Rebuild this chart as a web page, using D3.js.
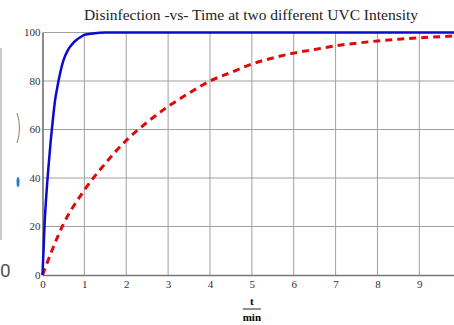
<!DOCTYPE html>
<meta charset="utf-8">
<style>
body { margin: 0; background: #fff; }
svg { display: block; }
text { font-family: "Liberation Serif", "Times New Roman", serif; }
.grid line { stroke: #a0a0a0; stroke-width: 1px; }
.tick text { font-size: 11px; fill: #333; }
</style>
<body>
<script src="https://d3js.org/d3.v7.min.js"></script>
<script>
// values
const timeHigh = [0, 0.05, 0.1, 0.15, 0.2, 0.25, 0.3, 0.35, 0.4, 0.5, 0.6, 0.7, 0.8, 0.9, 1.0, 1.2, 1.5, 2, 10];
const disHigh  = [0, 21, 35, 46, 56, 64.5, 72, 77, 81.5, 88.5, 92.5, 95, 96.8, 98, 99, 99.6, 100, 100, 100];

const timeLow = [0, 0.5, 1, 1.5, 2, 2.5, 3, 3.5, 4, 4.5, 5, 5.5, 6, 6.5, 7, 7.5, 8, 8.5, 9, 9.5, 10];
const disLow  = [0, 21, 35, 46, 55.5, 63, 69.5, 75, 80, 83.5, 87, 89.5, 91.5, 93, 94.5, 95.6, 96.5, 97.2, 97.8, 98.3, 98.7];

const xTicks = [0, 1, 2, 3, 4, 5, 6, 7, 8, 9];
const yTicks = [0, 20, 40, 60, 80, 100];
const title = "Disinfection -vs- Time at two different UVC Intensity";

const width = 454, height = 325;
const plotLeft = 42.5, plotTop = 32.5, plotBottom = 275;
const serif = "Liberation Serif, Times New Roman, serif";

let svg = d3.select("body").append("svg")
    .attr("width", width)
    .attr("height", height);

let x = d3.scaleLinear().domain([0, 10]).range([plotLeft, plotLeft + 418.7]);
let y = d3.scaleLinear().domain([0, 100]).range([plotBottom, plotTop]);

// screenshot leftovers at the left edge
svg.append("line")
    .attr("x1", 1).attr("x2", 1).attr("y1", 48).attr("y2", 240)
    .attr("stroke", "#bbb").attr("stroke-width", 1.5);
svg.append("text")
    .attr("x", 0).attr("y", 277)
    .style("font-family", "Roboto, sans-serif")
    .style("font-size", "19px")
    .attr("fill", "#555")
    .text("0");
svg.append("path")
    .attr("d", "M17,113 Q22,128 17,143")
    .attr("fill", "none").attr("stroke", "#8a7f70").attr("stroke-width", 1);
svg.append("ellipse")
    .attr("cx", 18).attr("cy", 182).attr("rx", 1.5).attr("ry", 5)
    .attr("fill", "#1a7fd9");

// grid
let grid = svg.append("g").attr("class", "grid");
grid.selectAll(".gx")
    .data(xTicks.slice(1))
    .join("line")
      .attr("x1", d => x(d)).attr("x2", d => x(d))
      .attr("y1", plotTop).attr("y2", plotBottom);
grid.selectAll(".gy")
    .data(yTicks.slice(1))
    .join("line")
      .attr("x1", plotLeft).attr("x2", width)
      .attr("y1", d => y(d)).attr("y2", d => y(d));

// axes
let xAxis = svg.append("g")
    .attr("transform", `translate(0,${plotBottom})`)
    .call(d3.axisBottom(x).tickValues(xTicks).tickSize(0).tickPadding(5))
    .attr("font-family", serif).attr("font-size", 11);
xAxis.select(".domain").attr("stroke", "#777").attr("stroke-width", 1.5);

let yAxis = svg.append("g")
    .attr("transform", `translate(${plotLeft},0)`)
    .call(d3.axisLeft(y).tickValues(yTicks).tickSize(0).tickPadding(2))
    .attr("font-family", serif).attr("font-size", 11);
yAxis.select(".domain").attr("stroke", "#666").attr("stroke-width", 1.5);
yAxis.selectAll(".tick text").attr("dy", "0.3em");

// curves
let line = d3.line()
    .x(d => x(d[0]))
    .y(d => y(d[1]))
    .curve(d3.curveMonotoneX);

svg.append("path")
    .datum(timeLow.map((t, i) => [t, disLow[i]]))
    .attr("d", line)
    .attr("fill", "none")
    .attr("stroke", "#dd0a0a")
    .attr("stroke-width", 3)
    .attr("stroke-dasharray", "7,5");

svg.append("path")
    .datum(timeHigh.map((t, i) => [t, disHigh[i]]))
    .attr("d", line)
    .attr("fill", "none")
    .attr("stroke", "#0a0ad0")
    .attr("stroke-width", 2.5);

// title
svg.append("text")
    .attr("x", 251).attr("y", 20)
    .attr("text-anchor", "middle")
    .style("font-size", "15.5px")
    .attr("fill", "#222")
    .text(title);

// axis label t / min
let lbl = svg.append("g").attr("transform", `translate(${x(5)},0)`);
lbl.append("text")
    .attr("y", 305).attr("text-anchor", "middle")
    .style("font-size", "11px").style("font-weight", "bold")
    .text("t");
lbl.append("line")
    .attr("x1", -9).attr("x2", 9).attr("y1", 309).attr("y2", 309)
    .attr("stroke", "#222").attr("stroke-width", 1);
lbl.append("text")
    .attr("y", 321).attr("text-anchor", "middle")
    .style("font-size", "11px").style("font-weight", "bold")
    .text("min");
</script>
</body>
